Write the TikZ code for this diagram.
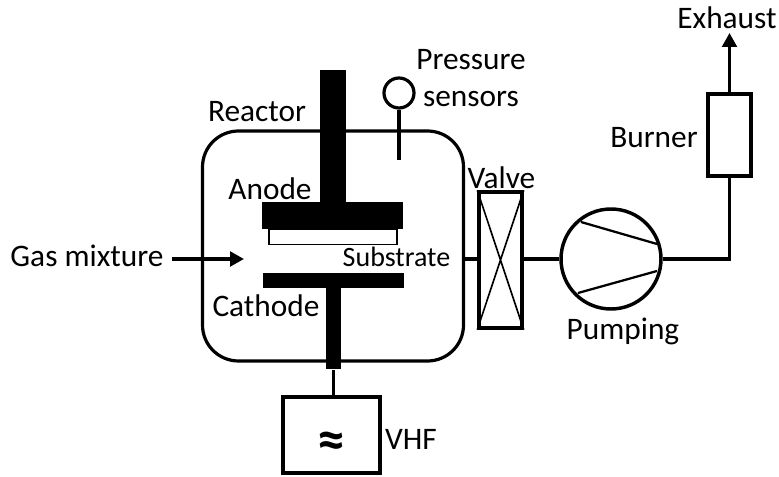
\documentclass[tikz,border=0pt]{standalone}
\usepackage{fontspec}
\setmainfont{Carlito}
\usetikzlibrary{arrows.meta}
\tikzset{
  lbl/.style={inner sep=0pt,font=\fontsize{23.5}{27}\selectfont},
  smalllbl/.style={inner sep=0pt,font=\fontsize{21}{25}\selectfont},
  box/.style={draw=black,fill=white,line width=2.6pt,inner sep=0pt},
  pipe/.style={draw=black,line width=2.4pt},
  thinpipe/.style={draw=black,line width=1.2pt},
  flow/.style={pipe,-{Triangle[length=10.5pt,width=11pt]}}
}
\begin{document}
\begin{tikzpicture}[x=0.75pt,y=-0.75pt]
\useasboundingbox (0,0) rectangle (779,477);
\node[draw=black,line width=2.4pt,rounded corners=27pt,minimum width=195.75pt,minimum height=172.5pt,inner sep=0pt] (reactor) at (333,246) {};
\node[box,minimum width=32.25pt,minimum height=102pt] (valve) at (500.5,260) {};
\draw[thinpipe] (valve.north west) -- (valve.south east) (valve.north east) -- (valve.south west);
\node[draw=black,fill=white,circle,line width=2.6pt,minimum size=75pt,inner sep=0pt] (pump) at (611,259) {};
\coordinate (pa1) at (581,222); \coordinate (pa2) at (657,244);
\coordinate (pb1) at (578,293); \coordinate (pb2) at (657,271);
\draw[draw=black,line width=1.7pt] (pa1) -- (pa2) (pb1) -- (pb2);
\node[box,minimum width=32.25pt,minimum height=61.5pt] (burner) at (729.5,135) {};
\coordinate (elbow) at (729.5,259);
\coordinate (exhaust) at (729.5,33);
\coordinate (reactorport) at (464,259);
\draw[pipe] (reactorport) -- (valve.west|-reactorport);
\draw[pipe] (valve.east|-pump) -- (pump.west);
\draw[pipe] (pump.east) -- (elbow) -- (burner.south);
\draw[flow] (burner.north) -- (exhaust);
\coordinate (gasstart) at (172,259); \coordinate (gasend) at (244,259);
\draw[flow] (gasstart) -- (gasend);
\node[fill=black,inner sep=0pt,minimum width=19.5pt,minimum height=99pt] (anoderod) at (333,136) {};
\node[fill=black,inner sep=0pt,minimum width=105.75pt,minimum height=20.25pt] (anode) at (332.5,215.5) {};
\node[draw=black,fill=white,line width=1pt,inner sep=0pt,minimum width=96pt,minimum height=11.25pt,anchor=north] (substrate) at (333,229) {};
\node[fill=black,inner sep=0pt,minimum width=105.75pt,minimum height=11.25pt] (cathode) at (333.5,280.5) {};
\node[fill=black,inner sep=0pt,minimum width=11.25pt,minimum height=60.75pt,anchor=north] (cathoderod) at (333.5,288) {};
\node[draw=black,fill=white,circle,line width=2.4pt,minimum size=22.5pt,inner sep=0pt] (sensor) at (399,93) {};
\coordinate (sensortip) at (399,160);
\draw[pipe] (sensor.south) -- (sensortip);
\node[box,minimum width=72.75pt,minimum height=57pt] (vhf) at (331.5,435) {};
\draw[draw=black,line width=1.9pt] (cathoderod.south) -- (cathoderod.south|-vhf.north);
\node[inner sep=0pt,font=\fontsize{42}{46}\selectfont\bfseries] (approx) at (331,445) {≈};
\node[lbl] (t1) at (87,256) {Gas mixture};
\node[lbl] (t2) at (257,112) {Reactor};
\node[lbl] (t3) at (471,60) {Pressure};
\node[lbl] (t4) at (471,99) {sensors};
\node[lbl] (t5) at (270,189) {Anode};
\node[smalllbl] (t6) at (396.5,257) {Substrate};
\node[lbl] (t7) at (266,306) {Cathode};
\node[lbl] (t8) at (501.5,178) {Valve};
\node[lbl] (t9) at (623,331) {Pumping};
\node[lbl] (t10) at (654,138) {Burner};
\node[lbl] (t11) at (411,439) {VHF};
\node[lbl] (t12) at (727,18) {Exhaust};
\end{tikzpicture}
\end{document}
